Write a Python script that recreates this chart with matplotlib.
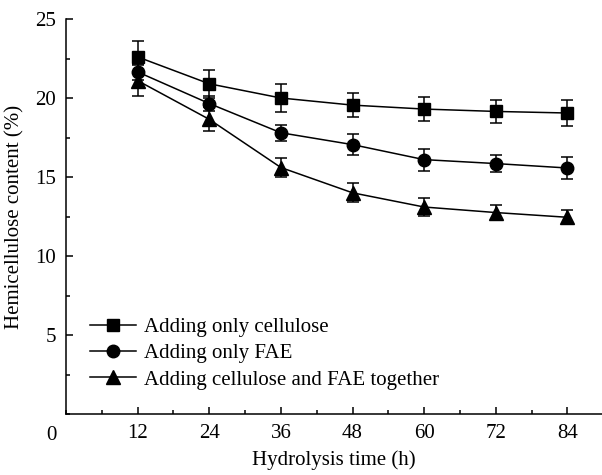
import matplotlib
matplotlib.use("Agg")
import matplotlib.pyplot as plt
from matplotlib.ticker import MultipleLocator

plt.rcParams['font.family'] = ['Liberation Serif', 'DejaVu Serif']

# hydrolysis time (h)
hours = [12, 24, 36, 48, 60, 72, 84]

# hemicellulose content (%) and error bars
cellulose = [22.6, 20.9, 20.0, 19.55, 19.3, 19.15, 19.05]
cellulose_err = [1.0, 0.9, 0.9, 0.75, 0.75, 0.75, 0.8]

fae = [21.65, 19.65, 17.8, 17.05, 16.1, 15.85, 15.57]
fae_err = [0.5, 0.5, 0.5, 0.65, 0.7, 0.55, 0.7]

together = [21.1, 18.65, 15.6, 14.0, 13.1, 12.75, 12.45]
together_err = [1.0, 0.75, 0.6, 0.6, 0.55, 0.48, 0.45]

labels = ["Adding only cellulose", "Adding only FAE",
          "Adding cellulose and FAE together"]

FS = 15

fig = plt.figure(figsize=(6.02, 4.75), dpi=100)
ax = fig.add_axes([66 / 602, 61 / 475, 536 / 602, 395 / 475])

series = [(cellulose, cellulose_err, "s", 8.5),
          (fae, fae_err, "o", 9),
          (together, together_err, "^", 9.5)]
handles = []
for (vals, err, mk, ms), lab in zip(series, labels):
    cont = ax.errorbar(hours, vals, yerr=err, color="black", marker=mk,
                       markersize=ms, linewidth=1.1, elinewidth=1.1,
                       capsize=4, capthick=1.1, label=lab)
    handles.append(cont[0])

ax.set_xlim(0, 89.8)
ax.set_ylim(0, 25)
ax.xaxis.set_minor_locator(MultipleLocator(6))
ax.yaxis.set_minor_locator(MultipleLocator(2.5))
ax.set_xticks(hours)
ax.set_xticklabels([str(h) for h in hours])
ax.set_yticks([5, 10, 15, 20, 25])
ax.tick_params(which="both", direction="in", labelsize=FS)
ax.tick_params(which="major", length=5, width=1.1, pad=7)
ax.tick_params(which="minor", length=3, width=1.1)
ax.spines["top"].set_visible(False)
ax.spines["right"].set_visible(False)
for s in ("left", "bottom"):
    ax.spines[s].set_linewidth(1.1)

# shared origin label
ax.text(-1.6, -0.75, "0", ha="right", va="top", fontsize=FS,
        transform=ax.transData)

ax.set_xlabel("Hydrolysis time (h)", fontsize=FS)
ax.xaxis.set_label_coords(0.5, -0.093)
ax.set_ylabel("Hemicellulose content (%)", fontsize=FS)
ax.yaxis.set_label_coords(-0.078, 0.5)

ax.legend(handles, labels, loc="lower left", bbox_to_anchor=(0.045, 0.062),
          frameon=False, fontsize=FS, handlelength=2.2, handletextpad=0.4,
          labelspacing=0.32, borderaxespad=0, borderpad=0)

fig.savefig("out.png", dpi=100)
